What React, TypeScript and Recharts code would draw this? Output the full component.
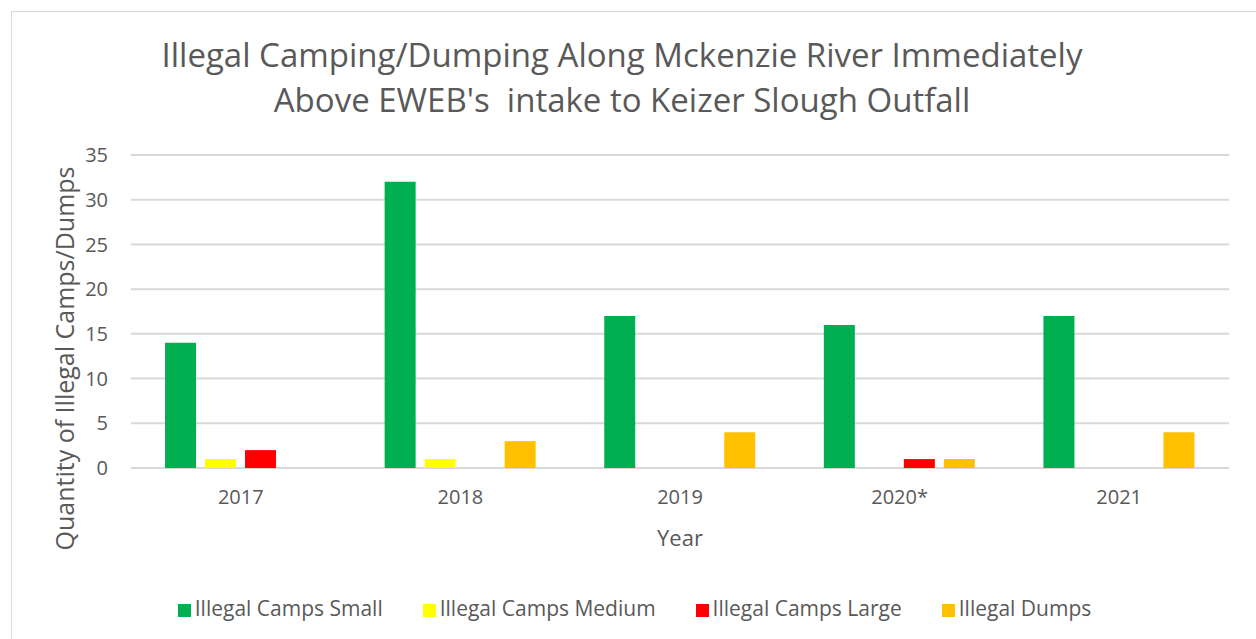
import { BarChart, Bar, XAxis, YAxis, CartesianGrid, Legend } from 'recharts';

// values
const years = ['2017', '2018', '2019', '2020*', '2021'];
const campsSmall = [14, 32, 17, 16, 17];
const campsMedium = [1, 1, 0, 0, 0];
const campsLarge = [2, 0, 0, 1, 0];
const dumps = [0, 3, 4, 1, 4];
const yTicks = [0, 5, 10, 15, 20, 25, 30, 35];

const data = years.map((year, i) => ({
  year,
  small: campsSmall[i],
  medium: campsMedium[i],
  large: campsLarge[i],
  dumps: dumps[i],
}));

const font = '"Open Sans", sans-serif';
const textColor = '#595959';

// rotated y-axis title, sits a bit below the plot middle like the original
function YTitle(props: any) {
  const vb = props.viewBox || {};
  const x = vb.x + 64;
  const y = vb.y + vb.height / 2 + 47;
  return (
    <text x={x} y={y} transform={`rotate(-90, ${x}, ${y})`} textAnchor="middle" dominantBaseline="central"
      fill={textColor} fontSize={25} fontFamily={font}>
      Quantity of Illegal Camps/Dumps
    </text>
  );
}

export default function App() {
  return (
    <div style={{ position: 'absolute', left: 0, top: 0, width: 1256, height: 639, overflow: 'hidden', background: '#fff', fontFamily: font }}>
      {/* chart frame */}
      <div style={{ position: 'absolute', left: 11, top: 11, width: 1300, height: 700, border: '1px solid #d9d9d9' }} />

      {/* title */}
      <div style={{ position: 'absolute', left: 0, top: 32, width: 1244, textAlign: 'center', color: textColor, fontSize: 33, lineHeight: '45px' }}>
        <div>Illegal Camping/Dumping Along Mckenzie River Immediately</div>
        <div>Above EWEB's&nbsp; intake to Keizer Slough Outfall</div>
      </div>

      <div style={{ position: 'absolute', left: 0, top: 0 }}>
        <BarChart
          width={1256}
          height={639}
          data={data}
          margin={{ top: 155, right: 27, bottom: 63, left: 0 }}
          barCategoryGap="15.5%"
          barGap={9}
        >
          <CartesianGrid vertical={false} stroke="#d9d9d9" strokeWidth={2} />
          <XAxis
            dataKey="year"
            axisLine={false}
            tickLine={false}
            tickMargin={16}
            height={80}
            tick={{ fill: textColor, fontSize: 20, fontFamily: font }}
            label={{ value: 'Year', position: 'insideBottom', offset: 2, fill: textColor, fontSize: 22, fontFamily: font }}
          />
          <YAxis
            domain={[0, 35]}
            ticks={yTicks}
            width={131}
            axisLine={false}
            tickLine={false}
            tickMargin={17}
            tick={{ fill: textColor, fontSize: 20, fontFamily: font }}
            label={<YTitle />}
          />
          <Legend
            iconType="square"
            iconSize={13}
            itemSorter={null}
            wrapperStyle={{ top: 594, left: 40, fontSize: 21, fontFamily: font }}
            formatter={(value) => <span style={{ color: textColor, marginRight: 30 }}>{value}</span>}
          />
          <Bar dataKey="small" name="Illegal Camps Small" fill="#00b050" isAnimationActive={false} />
          <Bar dataKey="medium" name="Illegal Camps Medium" fill="#ffff00" isAnimationActive={false} />
          <Bar dataKey="large" name="Illegal Camps Large" fill="#ff0000" isAnimationActive={false} />
          <Bar dataKey="dumps" name="Illegal Dumps" fill="#ffc000" isAnimationActive={false} />
        </BarChart>
      </div>
    </div>
  );
}
